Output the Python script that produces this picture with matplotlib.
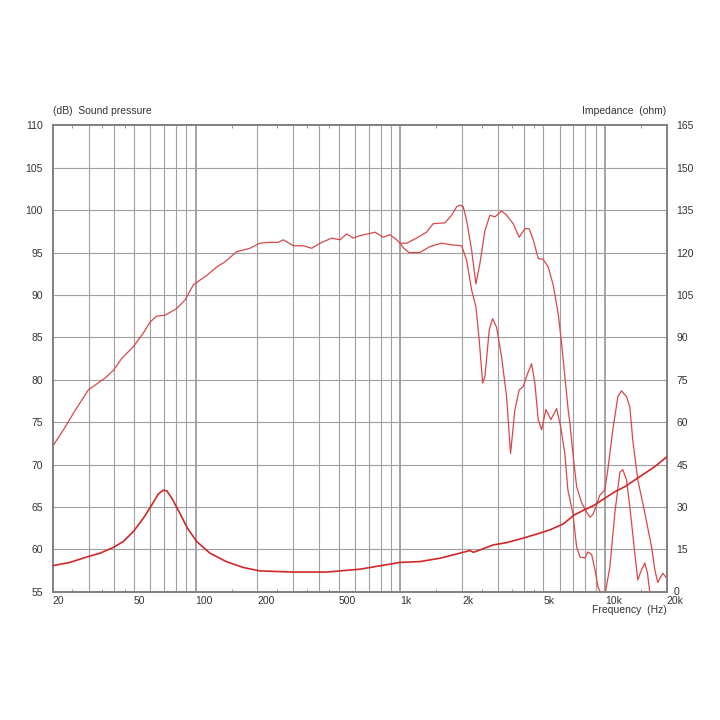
import numpy as np
import matplotlib
matplotlib.use('Agg')
import matplotlib.pyplot as plt
from matplotlib.ticker import FixedLocator, NullFormatter

plt.rcParams['font.family'] = ['Liberation Sans', 'DejaVu Sans']

# Sound pressure, on-axis (dB)
spl_freq = [20.2, 22.6, 25.8, 29.9, 36.1, 39.6, 43.5, 49.6, 55.5, 59.9, 64.5, 70.8,
            80.8, 88.7, 97.5, 113.3, 126.8, 139.1, 158.6, 184.2, 206, 230.7, 253, 268,
            300, 336, 369, 405, 462, 507, 547, 589, 634, 697, 752, 825, 889, 959, 995,
            1074, 1200, 1343, 1446, 1651, 1780, 1884, 1954, 2028, 2106, 2228, 2339, 2446,
            2589, 2738, 2897, 3121, 3303, 3557, 3803, 4057, 4258, 4456, 4714, 4981, 5273,
            5574, 5900, 6130, 6360, 6605, 6730, 6955, 7260, 7680, 8120, 8430, 8710, 9080,
            9420, 9970, 10310, 10910, 11540, 12020, 12730, 13210, 13650, 14450, 15630,
            16860, 17500, 18080, 19140, 20000]
spl_db = [72.3, 74.1, 76.4, 78.8, 80.2, 81.1, 82.5, 83.9, 85.5, 86.8, 87.5, 87.6,
          88.4, 89.4, 91.2, 92.3, 93.3, 93.9, 95.1, 95.5, 96.1, 96.2, 96.2, 96.5,
          95.8, 95.8, 95.5, 96.1, 96.7, 96.5, 97.2, 96.7, 97.0, 97.2, 97.4, 96.8, 97.1, 96.5, 96.1,
          96.1, 96.7, 97.4, 98.4, 98.5, 99.4, 100.4, 100.6, 100.4, 98.8, 95.3, 91.3, 93.7,
          97.6, 99.4, 99.2, 99.9, 99.4, 98.4, 96.8, 97.8, 97.8, 96.5, 94.3, 94.2, 93.3,
          91.2, 87.8, 84.3, 80.4, 76.4, 74.9, 71.4, 67.4, 65.5, 64.4, 63.8, 64.1, 65.2,
          66.4, 67.0, 69.4, 74.1, 78.0, 78.7, 78.0, 76.8, 72.9, 68.2, 64.3,
          60.3, 57.6, 56.1, 57.2, 56.6]

# Sound pressure, off-axis branch (dB) – splits from the main curve near 1 kHz
off_freq = [995, 1040, 1100, 1245, 1394, 1589, 1780, 1991, 2106, 2228, 2339, 2427, 2523,
            2589, 2718, 2821, 2950, 3121, 3303, 3453, 3623, 3803, 3981, 4163, 4375, 4540,
            4714, 4896, 5139, 5435, 5796, 6063, 6360, 6580, 6955, 7260, 7540, 7970, 8240,
            8600, 8920, 9230, 9620, 9970, 10550, 11160, 11810, 12210, 12730, 13210, 13960,
            14450, 15060, 15630, 16110, 16520, 17500]
off_db = [96.1, 95.5, 95.0, 95.0, 95.7, 96.1, 95.9, 95.8, 94.1, 90.6, 88.6, 84.7, 79.6,
          80.4, 85.9, 87.2, 86.2, 82.7, 78.0, 71.3, 76.4, 78.8, 79.2, 80.6, 81.9, 79.6,
          75.3, 74.1, 76.5, 75.3, 76.6, 74.5, 71.3, 67.0, 64.3, 60.3, 59.1, 59.0, 59.7,
          59.4, 57.6, 55.6, 54.6, 54.6, 57.9, 64.3, 69.1, 69.4, 68.2, 65.0, 59.6,
          56.4, 57.6, 58.4, 57.2, 55.0, 54.0]

# Impedance (ohm)
imp_freq = [20.2, 24.3, 29.3, 34.2, 39.6, 44.3, 49.6, 55.5, 61.0, 65.7, 69.6, 72.3, 76.5,
            82.9, 91.2, 101.2, 117.3, 141, 171, 206, 300, 436, 634, 795, 995, 1246, 1565,
            1954, 2187, 2270, 2446, 2840, 3303, 3981, 4625, 5370, 6240, 7070, 7920, 8880,
            9970, 11160, 12500, 14000, 15630, 17500, 20000]
imp_ohm = [9.3, 10.4, 12.3, 13.7, 15.7, 17.8, 21.3, 26.0, 30.7, 34.6, 36.0, 35.7, 33.1,
           28.4, 22.5, 17.8, 13.7, 10.7, 8.6, 7.4, 7.0, 7.0, 8.0, 9.2, 10.4, 10.7, 11.9,
           13.7, 14.6, 14.0, 14.8, 16.6, 17.4, 19.0, 20.4, 21.9, 24.0, 27.2, 29.0, 30.7,
           33.1, 35.4, 37.2, 39.6, 41.9, 44.3, 47.7]

x_ticks = [20, 50, 100, 200, 500, 1000, 2000, 5000, 10000, 20000]
x_tick_labels = ['20', '50', '100', '200', '500', '1k', '2k', '5k', '10k', '20k']
grid_freqs = [30, 40, 50, 60, 70, 80, 90, 100, 200, 300, 400, 500, 600, 700, 800, 900,
              1000, 2000, 3000, 4000, 5000, 6000, 7000, 8000, 9000, 10000]
minor_freqs = [25, 35, 45, 150, 250, 350, 450, 1500, 2500, 3500, 4500, 15000]

text_col = '#333333'
grid_col = '#a0a0a0'
red = '#d84848'

fig = plt.figure(figsize=(7.2, 7.2), dpi=100)
ax = fig.add_axes([0.073, 0.178, 0.853, 0.648])
ax.set_xscale('log')
ax.set_xlim(20, 20000)
ax.set_ylim(55, 110)

# grid
for f in grid_freqs:
    strong = f in (100, 1000, 10000)
    ax.axvline(f, color='#8a8a8a' if strong else grid_col, lw=1.1 if strong else 0.8, zorder=1)
for v in range(60, 110, 5):
    ax.axhline(v, color=grid_col, lw=0.8, zorder=1)

ax.plot(spl_freq, spl_db, color=red, lw=0.9, zorder=3)
ax.plot(off_freq, off_db, color=red, lw=0.9, zorder=3)

ax2 = ax.twinx()
ax2.set_ylim(0, 165)
ax2.plot(imp_freq, imp_ohm, color='#d02828', lw=1.2, zorder=3)

# ticks
ax.xaxis.set_major_locator(FixedLocator(x_ticks))
ax.set_xticklabels(x_tick_labels)
ax.xaxis.set_minor_locator(FixedLocator(minor_freqs))
ax.xaxis.set_minor_formatter(NullFormatter())
ax.tick_params(axis='x', which='major', length=0, pad=3, labelsize=7.5, colors=text_col)
ax.tick_params(axis='x', which='minor', direction='in', length=2.5, top=True, bottom=True,
               color='#808080')
for lab in ax.get_xticklabels():
    lab.set_horizontalalignment('left')
    if lab.get_text() == '20k':
        lab.set_y(lab.get_position()[1])

ax.set_yticks(range(55, 111, 5))
ax.tick_params(axis='y', length=0, pad=7, labelsize=7.5, colors=text_col)
ax2.set_yticks(range(15, 166, 15))
ax2.tick_params(axis='y', length=0, pad=7, labelsize=7.5, colors=text_col)

for a in (ax, ax2):
    for s in a.spines.values():
        s.set_color('#808080')
        s.set_linewidth(1.2)

# right axis zero sits above the 20k label
ax.text(1.0, 0.0, '0', transform=ax.transAxes, ha='left', va='center',
        fontsize=7.5, color=text_col).set_x(1.012)

ax.text(0.0, 1.02, '(dB)  Sound pressure', transform=ax.transAxes, ha='left',
        va='bottom', fontsize=7.5, color=text_col)
ax.text(1.0, 1.02, 'Impedance  (ohm)', transform=ax.transAxes, ha='right',
        va='bottom', fontsize=7.5, color=text_col)
ax.text(1.0, -0.028, 'Frequency  (Hz)', transform=ax.transAxes, ha='right',
        va='top', fontsize=7.5, color=text_col)

fig.savefig('out.png', dpi=100, facecolor='white')
